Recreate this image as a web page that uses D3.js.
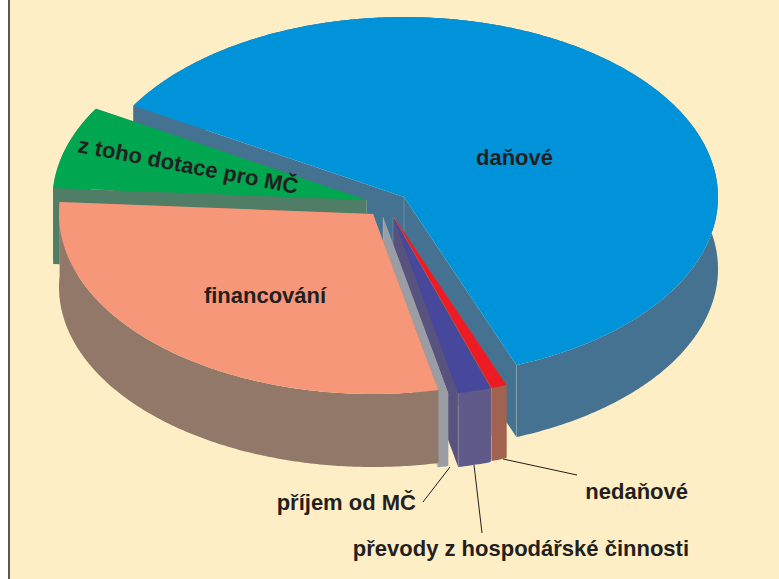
<!DOCTYPE html>
<html>
<head>
<meta charset="utf-8">
<script src="https://d3js.org/d3.v7.min.js"></script>
<style>
  html, body { margin: 0; padding: 0; background: #fff; }
  svg { display: block; }
  text { font-family: "Liberation Sans", Arial, sans-serif; font-weight: bold; fill: #231f20; }
</style>
</head>
<body>
<div id="chart"></div>
<script>
// share of each slice, clockwise from the back left edge of the blue one
const categories = ['daňové', 'nedaňové', 'převody z hospodářské činnosti', 'příjem od MČ', 'financování', 'z toho dotace pro MČ'];
const shares = [60.7, 0.8, 1.7, 0.55, 28.85, 7.4];

const topColors = ['#0093d9', '#ed1c24', '#47479b', '#9a9ea4', '#f7977a', '#00a650'];
const sideColors = ['#457291', '#a1624f', '#5f5a8a', '#9a9ea4', '#917868', '#4f7d65'];
const wallColors = ['#457291', '#a1624f', '#58527e', '#9a9ea4', '#917868', '#4f7d65'];

// where each slice's tip sits after being pulled out of the pie
const tipX = [404, 394, 393, 383, 373, 366.5];
const tipY = [197, 217, 217, 217, 214, 200];
const depths = [72, 73, 74, 73, 73, 76];
// degrees a slice reaches back under its clockwise neighbour
const tuck = [0, 0, 0, 0, 2, 0];
// back to front
const drawOrder = [0, 5, 1, 2, 3, 4];

const width = 779, height = 579;
const rx = 314, ry = 180;
const startDeg = 300.5;

const svg = d3.select('#chart').append('svg')
    .attr('width', width)
    .attr('height', height);

svg.append('rect').attr('width', width).attr('height', height).attr('fill', '#fff');
svg.append('rect').attr('x', 10).attr('width', width - 10).attr('height', height).attr('fill', '#feeec5');
svg.append('rect').attr('x', 8).attr('width', 2).attr('height', height).attr('fill', '#58595b');

const pie = d3.pie().sort(null)
    .startAngle(startDeg * Math.PI / 180)
    .endAngle((startDeg + 360) * Math.PI / 180);
const arcs = pie(shares);

function rim(i, a) {
    return [tipX[i] + rx * Math.sin(a), tipY[i] - ry * Math.cos(a)];
}

const line = d3.line();

function rimPoints(i, a0, a1) {
    const n = Math.max(2, Math.ceil((a1 - a0) / 0.01));
    return d3.range(n + 1).map(k => rim(i, a0 + (a1 - a0) * k / n));
}

drawOrder.forEach(function(i) {
    const drop = p => [p[0], p[1] + depths[i]];
    const a0 = arcs[i].startAngle - tuck[i] * Math.PI / 180;
    const a1 = arcs[i].endAngle;
    const pts = rimPoints(i, a0, a1);
    const tip = [tipX[i], tipY[i]];
    const g = svg.append('g').attr('class', 'slice');

    // cut faces
    [pts[0], pts[pts.length - 1]].forEach(function(p) {
        g.append('path')
            .attr('d', line([tip, p, drop(p), drop(tip)]) + 'Z')
            .attr('fill', wallColors[i]);
    });

    // outer skin
    g.append('path')
        .attr('d', line(pts.concat(pts.map(drop).reverse())) + 'Z')
        .attr('fill', sideColors[i]);

    // pale seams where the faces meet
    [tip, pts[pts.length - 1]].forEach(function(p) {
        g.append('path')
            .attr('d', line([p, drop(p)]))
            .attr('stroke', '#fff')
            .attr('stroke-opacity', 0.22)
            .attr('stroke-width', 0.8);
    });

    // top
    g.append('path')
        .attr('d', line([tip].concat(pts)) + 'Z')
        .attr('fill', topColors[i]);
});

// labels on the slices
svg.append('text').attr('x', 514.5).attr('y', 165).attr('text-anchor', 'middle')
    .style('font-size', '22px').text(categories[0]);
svg.append('text').attr('x', 265).attr('y', 303).attr('text-anchor', 'middle')
    .style('font-size', '22px').text(categories[4]);
svg.append('text').attr('transform', 'translate(77,152) rotate(10.8)')
    .style('font-size', '22px').text(categories[5]);

// labels below with leaders
svg.append('text').attr('x', 416).attr('y', 510).attr('text-anchor', 'end')
    .style('font-size', '22px').text(categories[3]);
svg.append('text').attr('x', 688).attr('y', 499).attr('text-anchor', 'end')
    .style('font-size', '22px').text(categories[1]);
svg.append('text').attr('x', 689).attr('y', 556).attr('text-anchor', 'end')
    .style('font-size', '22px').text(categories[2]);

const leaders = [[423, 502, 450, 467], [474, 465, 482, 533], [503, 459, 577, 475]];
svg.selectAll('line.leader').data(leaders).enter().append('line')
    .attr('class', 'leader')
    .attr('x1', d => d[0]).attr('y1', d => d[1])
    .attr('x2', d => d[2]).attr('y2', d => d[3])
    .attr('stroke', '#231f20')
    .attr('stroke-width', 1);
</script>
</body>
</html>
